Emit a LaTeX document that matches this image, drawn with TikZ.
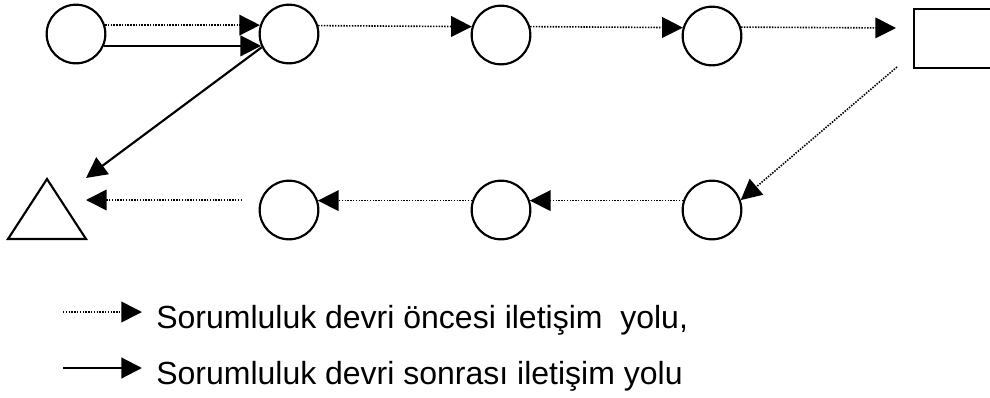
\documentclass[tikz,border=0pt]{standalone}
\usepackage{fontspec}
\setmainfont{Liberation Sans}
\usetikzlibrary{arrows.meta}

\begin{document}
\begin{tikzpicture}[x=0.75pt,y=-0.75pt,
  state/.style={circle,draw,line width=1.6pt,minimum size=44pt,inner sep=0pt},
  sink/.style={rectangle,draw,line width=1.6pt,minimum width=69pt,minimum height=44pt,inner sep=0pt},
  flow/.style={line width=1.2pt,-{Triangle[length=15.5pt,width=15.5pt]}},
  before/.style={flow,dash pattern=on 1.1pt off 1.0pt},
  after/.style={flow,line width=1.6pt},
  legend/.style={anchor=base west,inner sep=0pt,font=\fontsize{24}{28}\selectfont}]
  \clip (0,0) rectangle (990,397);

  % upper row
  \node[state] (c1) at (76,34) {};
  \node[state] (c2) at (289,34) {};
  \node[state] (c3) at (501,35) {};
  \node[state] (c4) at (712,36) {};
  \node[sink]  (r)  at (960,38.5) {};

  % lower row
  \node[state] (c5) at (712,210) {};
  \node[state] (c6) at (501,210) {};
  \node[state] (c7) at (289,210) {};
  \draw[line width=1.6pt,line join=miter] (8,239) -- (47,179) -- (86,239) -- cycle;
  \coordinate (tri) at (47,219);

  % free ends of the connectors
  \coordinate (rin)   at (896,28);
  \coordinate (rout)  at (897,67);
  \coordinate (tin1)  at (86,178);
  \coordinate (tout2) at (242,200);
  \coordinate (tin2)  at (86,200);

  % route before the hand-over
  \draw[before] (c1.17)  -- (c2.163);
  \draw[before] (c2.16)  -- (c3.164);
  \draw[before] (c3.16)  -- (c4.164);
  \draw[before] (c4.17)  -- (rin);
  \draw[before] (rout)   -- (c5.19);
  \draw[before] (c5.162) -- (c6.18);
  \draw[before] (c6.162) -- (c7.18);
  \draw[before] (tout2)  -- (tin2);

  % route after the hand-over
  \draw[after] (c1.-23)  -- (c2.203);
  \draw[after] (c2.206)  -- (tin1);

  % legend
  \coordinate (l1a) at (63,312);
  \coordinate (l1b) at (142,312);
  \coordinate (l2a) at (63,368);
  \coordinate (l2b) at (142,368);
  \draw[before] (l1a) -- (l1b);
  \draw[after]  (l2a) -- (l2b);
  \node[legend] (t1) at (156,328) {Sorumluluk devri öncesi iletişim\ \ yolu,};
  \node[legend] (t2) at (156,384) {Sorumluluk devri sonrası iletişim yolu};
\end{tikzpicture}
\end{document}
